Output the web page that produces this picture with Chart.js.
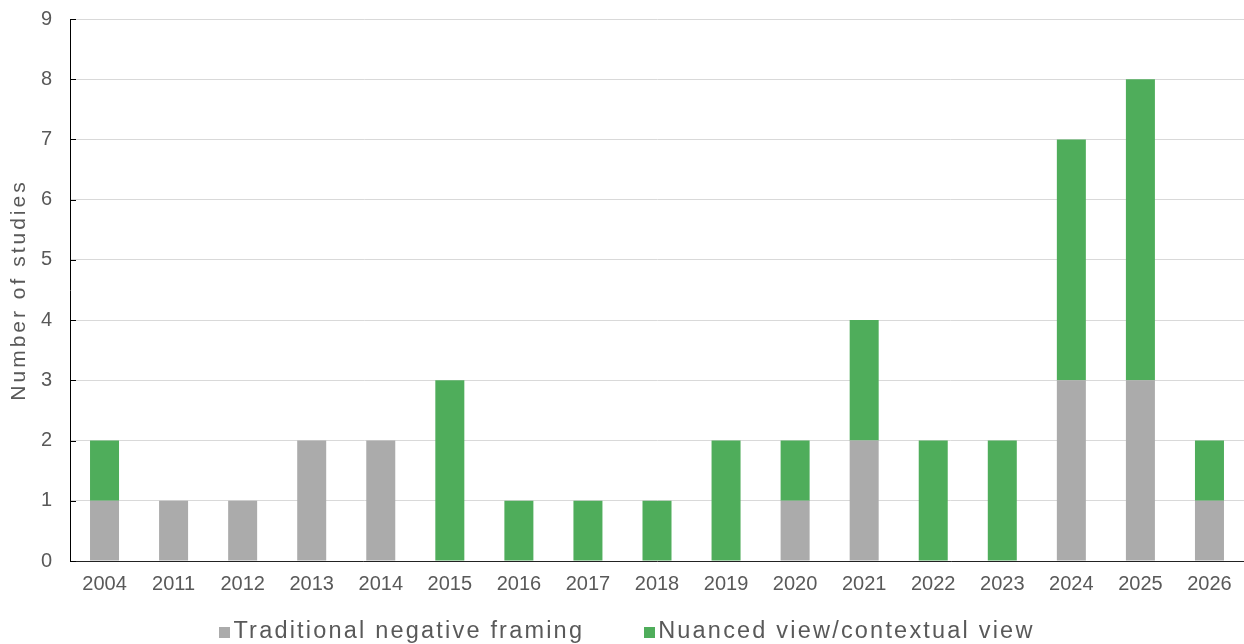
<!DOCTYPE html>
<html>
<head>
<meta charset="utf-8">
<style>
  html, body { margin: 0; padding: 0; background: #ffffff; }
  #wrap { width: 1244px; height: 644px; }
</style>
<script src="https://cdn.jsdelivr.net/npm/chart.js@4/dist/chart.umd.min.js"></script>
</head>
<body>
<div id="wrap"><canvas id="chart" width="1244" height="644"></canvas></div>
<script>
// Publication years
const years = ['2004', '2011', '2012', '2013', '2014', '2015', '2016', '2017', '2018',
               '2019', '2020', '2021', '2022', '2023', '2024', '2025', '2026'];

// Number of studies per year, by framing
const traditionalNegative = [1, 1, 1, 2, 2, 0, 0, 0, 0, 0, 1, 2, 0, 0, 3, 3, 1];
const nuancedContextual   = [1, 0, 0, 0, 0, 3, 1, 1, 1, 2, 1, 2, 2, 2, 4, 5, 1];

const seriesNames = ['Traditional negative framing', 'Nuanced view/contextual view'];
const axisTitle = 'Number of studies';
const yTicks = [0, 1, 2, 3, 4, 5, 6, 7, 8, 9];

const GREY = '#ababab';
const GREEN = '#4fad5b';
const TEXT = '#595959';
const FONT = '"Liberation Sans", Arial, Helvetica, sans-serif';

// Draws the y-axis title, inner tick marks and the legend row under the plot.
const decorations = {
  id: 'decorations',
  beforeDraw(chart) {
    chart.ctx.letterSpacing = '0px';
  },
  afterDraw(chart) {
    const ctx = chart.ctx;
    const y = chart.scales.y;
    const area = chart.chartArea;

    // short inner tick marks on the value axis
    ctx.save();
    ctx.strokeStyle = '#000000';
    ctx.lineWidth = 1;
    ctx.beginPath();
    yTicks.forEach(v => {
      const py = Math.round(y.getPixelForValue(v)) + 0.5;
      ctx.moveTo(area.left, py);
      ctx.lineTo(area.left + 6, py);
    });
    ctx.stroke();
    ctx.restore();

    // rotated axis title
    ctx.save();
    ctx.letterSpacing = '3px';
    ctx.font = '21px ' + FONT;
    ctx.fillStyle = TEXT;
    ctx.textAlign = 'center';
    ctx.textBaseline = 'middle';
    ctx.translate(19, (area.top + area.bottom) / 2);
    ctx.rotate(-Math.PI / 2);
    ctx.fillText(axisTitle, 0, 0);
    ctx.restore();

    // legend
    ctx.save();
    ctx.letterSpacing = '2.2px';
    ctx.font = '23.5px ' + FONT;
    ctx.textBaseline = 'alphabetic';
    ctx.textAlign = 'left';
    const box = 11, gapBoxText = 3, gapItems = 60;
    const items = chart.data.datasets.map(ds => ({
      text: ds.label, color: ds.backgroundColor,
      w: box + gapBoxText + ctx.measureText(ds.label).width
    }));
    const total = items.reduce((s, it) => s + it.w, 0) + gapItems * (items.length - 1);
    let x = chart.width / 2 + 5 - total / 2;
    const baseline = 638;
    items.forEach(it => {
      ctx.fillStyle = it.color;
      ctx.fillRect(Math.round(x), 627, box, box);
      ctx.fillStyle = TEXT;
      ctx.fillText(it.text, x + box + gapBoxText, baseline);
      x += it.w + gapItems;
    });
    ctx.restore();
  }
};

new Chart(document.getElementById('chart'), {
  type: 'bar',
  data: {
    labels: years,
    datasets: [
      { label: seriesNames[0], data: traditionalNegative, backgroundColor: GREY, borderWidth: 0 },
      { label: seriesNames[1], data: nuancedContextual, backgroundColor: GREEN, borderWidth: 0 }
    ]
  },
  options: {
    responsive: false,
    animation: false,
    devicePixelRatio: 1,
    layout: { padding: { top: 0, right: 0, bottom: 0, left: 0 } },
    datasets: { bar: { categoryPercentage: 1.0, barPercentage: 0.42 } },
    plugins: {
      legend: { display: false },
      tooltip: { enabled: false },
      title: { display: false }
    },
    scales: {
      x: {
        stacked: true,
        grid: { display: false, drawTicks: false },
        border: { display: true, color: '#222222', width: 1 },
        ticks: { color: TEXT, font: { family: FONT, size: 20 }, padding: 11, maxRotation: 0 },
        afterFit(scale) {
          scale.height = 83;
          scale.paddingLeft = 0;
          scale.paddingRight = 0;
        }
      },
      y: {
        stacked: true,
        min: 0,
        max: 9,
        afterBuildTicks(scale) { scale.ticks = yTicks.map(v => ({ value: v })); },
        grid: { color: '#d9d9d9', lineWidth: 1, drawTicks: false },
        border: { display: true, color: '#000000', width: 1 },
        ticks: { color: TEXT, font: { family: FONT, size: 20 }, padding: 18 },
        afterFit(scale) {
          scale.width = 70;
          scale.paddingTop = 19;
          scale.paddingBottom = 0;
        }
      }
    }
  },
  plugins: [decorations]
});
</script>
</body>
</html>
